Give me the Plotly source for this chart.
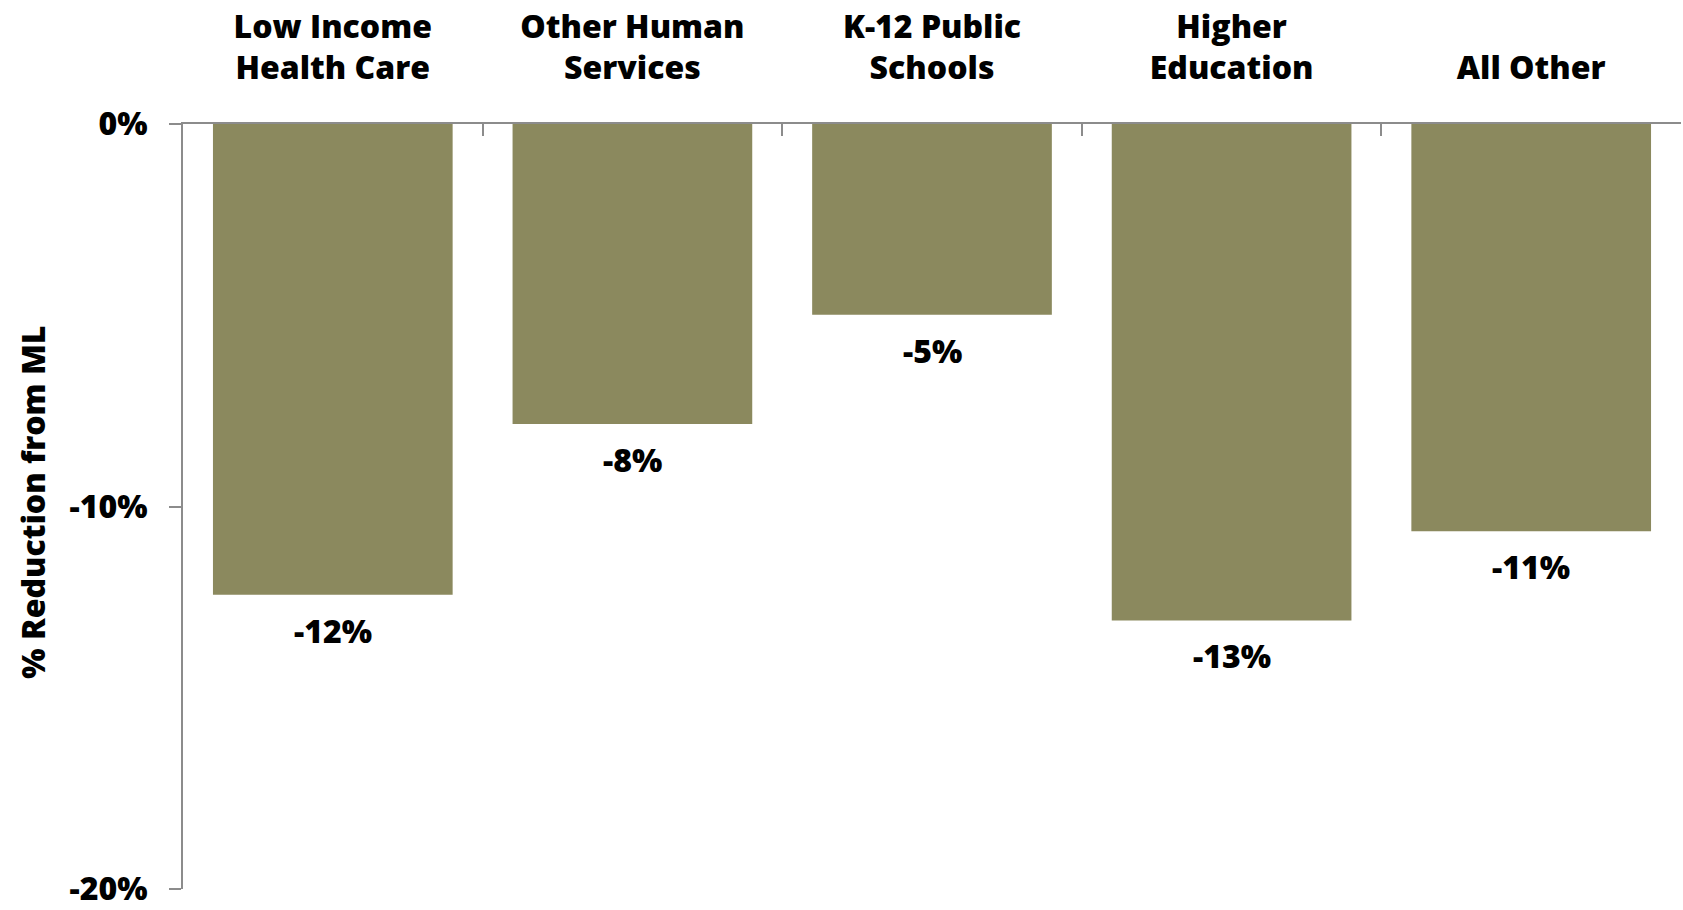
import plotly.graph_objects as go

# Budget reduction by program area, relative to ML (percent)
categories = ["Low Income<br>Health Care", "Other Human<br>Services", "K-12 Public<br>Schools",
              "Higher<br>Education", "All Other"]
reductions = [-12.31, -7.84, -4.99, -12.98, -10.65]

y_tick_vals = [0, -10, -20]
y_tick_text = ["0%", "-10%", "-20%"]

FONT = "Open Sans"
WEIGHT = 800
BAR = "#8B895E"
AXIS = "#8C8C8C"
FS = 32

fig = go.Figure(
    go.Bar(
        x=categories,
        y=reductions,
        marker=dict(color=BAR, line=dict(width=0)),
        hoverinfo="skip",
    )
)

# value labels under each bar end
for cat, val in zip(categories, reductions):
    fig.add_annotation(
        x=cat, y=val, xref="x", yref="y",
        text=f"{val:.0f}%",
        showarrow=False, yanchor="top", yshift=-12,
        font=dict(family=FONT, size=FS, color="#000000", weight=WEIGHT),
    )

# rotated y-axis title
fig.add_annotation(
    xref="paper", yref="paper",
    x=(33 - 183) / 1498, y=0.505,
    text="% Reduction from ML", textangle=-90,
    showarrow=False, xanchor="center", yanchor="middle",
    font=dict(family=FONT, size=FS, color="#000000", weight=WEIGHT),
)

fig.update_layout(
    width=1683, height=910,
    margin=dict(l=183, r=2, t=124, b=21, autoexpand=False),
    paper_bgcolor="white", plot_bgcolor="white",
    bargap=0.2,
    showlegend=False,
    font=dict(family=FONT, size=FS, color="#000000", weight=WEIGHT),
)

fig.update_xaxes(
    side="top",
    showline=True, linecolor=AXIS, linewidth=2,
    ticks="inside", ticklen=12, tickwidth=2, tickcolor=AXIS,
    tickson="boundaries",
    showgrid=False, zeroline=False,
    ticklabelstandoff=30,
    automargin=False,
    tickfont=dict(family=FONT, size=FS, color="#000000", weight=WEIGHT),
)

fig.update_yaxes(
    range=[-20, 0],
    tickvals=y_tick_vals, ticktext=y_tick_text,
    showline=True, linecolor=AXIS, linewidth=2,
    ticks="outside", ticklen=12, tickwidth=2, tickcolor=AXIS,
    showgrid=False, zeroline=False,
    ticklabelstandoff=15,
    ticklabeloverflow="allow",
    automargin=False,
    tickfont=dict(family=FONT, size=FS, color="#000000", weight=WEIGHT),
)

fig.write_html("out.html")
